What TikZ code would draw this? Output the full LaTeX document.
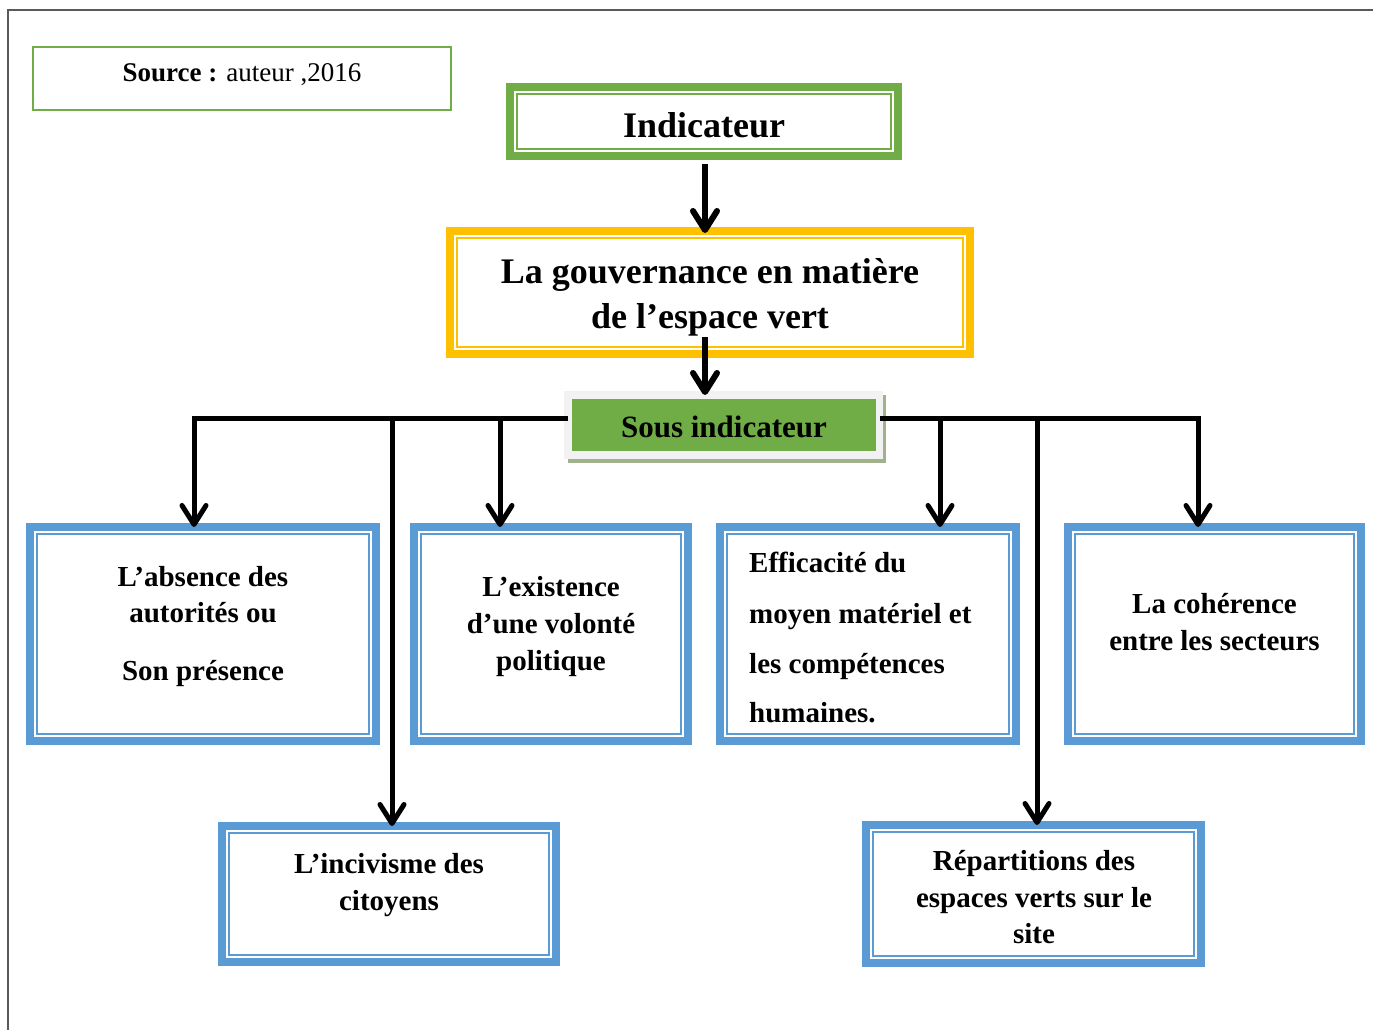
\documentclass[tikz,border=0pt]{standalone}
\usepackage{fontspec}
\setmainfont{Liberation Serif}
\usetikzlibrary{arrows.meta,backgrounds,calc}

\definecolor{grn}{HTML}{70AD47}
\definecolor{ylw}{HTML}{FFC000}
\definecolor{blu}{HTML}{5B9BD5}
\definecolor{frm}{HTML}{595959}
\definecolor{pale}{HTML}{F2F2F2}
\definecolor{shd}{RGB}{160,178,140}

% thin second frame drawn inside a thick-bordered box
\newcommand\innerframe[3]{%
  \draw[line width=2.5pt,#3] ([shift={(#2,-#2)}]#1.north west) rectangle ([shift={(-#2,#2)}]#1.south east);}

\begin{document}
\begin{tikzpicture}[x=1pt,y=1pt,
  box/.style={rectangle, outer sep=0pt, inner sep=0pt, line width=8pt},
  bluebox/.style={box, draw=blu},
  lbl/.style={anchor=base, inner sep=0pt, font=\fontsize{29}{35}\selectfont\bfseries},
  lblw/.style={lbl, anchor=base west},
  title/.style={anchor=base, inner sep=0pt, font=\fontsize{36}{42}\selectfont\bfseries},
  conn/.style={line width=5pt, -{Straight Barb[length=19pt,width=24pt,round]}},
  topconn/.style={conn, line width=6pt}
]
\useasboundingbox (0,0) rectangle (1373,-1030);

% page frame
\draw[frm, line width=2pt] (8,-1030) -- (8,-10) -- (1373,-10);

% source note
\node[box, draw=grn, line width=2.5pt, minimum width=418pt, minimum height=63pt] (src) at (242,-78.5) {};
\node[anchor=base, inner sep=0pt, font=\fontsize{27}{32}\selectfont] (srct) at (242,-82) {\textbf{Source :} auteur ,2016};

% indicator
\node[box, draw=grn, minimum width=388pt, minimum height=69pt] (ind) at (704,-121.5) {};
\innerframe{ind}{7}{grn}
\node[title] (indt) at (704,-138) {Indicateur};

% governance
\node[box, draw=ylw, minimum width=520pt, minimum height=123pt] (gov) at (710,-292.5) {};
\innerframe{gov}{7}{ylw}
\node[title] (gov1) at (710,-283) {La gouvernance en matière};
\node[title] (gov2) at (710,-328) {de l’espace vert};

% sub-indicator bar
\node[rectangle, outer sep=0pt, inner sep=0pt, fill=grn, minimum width=304pt, minimum height=52pt] (sous) at (724,-425) {};
\begin{scope}[on background layer]
  \fill[shd] ([shift={(-4,4)}]sous.north west) rectangle ([shift={(10,-12)}]sous.south east);
  \fill[pale] ([shift={(-8,8)}]sous.north west) rectangle ([shift={(7,-8)}]sous.south east);
\end{scope}
\node[anchor=base, inner sep=0pt, font=\fontsize{31}{36}\selectfont\bfseries] (soust) at (724,-437) {Sous indicateur};

% sub-indicator boxes
\node[bluebox, minimum width=346pt, minimum height=214pt] (A) at (203,-634) {};
\node[bluebox, minimum width=274pt, minimum height=214pt] (B) at (551,-634) {};
\node[bluebox, minimum width=296pt, minimum height=214pt] (C) at (868,-634) {};
\node[bluebox, minimum width=293pt, minimum height=214pt] (D) at (1214.5,-634) {};
\node[bluebox, minimum width=334pt, minimum height=136pt] (E) at (389,-894) {};
\node[bluebox, minimum width=335pt, minimum height=138pt] (F) at (1033.5,-894) {};
\foreach \b in {A,B,C,D,E,F}{\innerframe{\b}{7}{blu}}

\node[lbl] (a1) at (203,-586) {L’absence des};
\node[lbl] (a2) at (203,-622) {autorités ou};
\node[lbl] (a3) at (203,-680) {Son présence};

\node[lbl] (b1) at (551,-596) {L’existence};
\node[lbl] (b2) at (551,-633) {d’une volonté};
\node[lbl] (b3) at (551,-670) {politique};

\node[lblw] (c1) at (749,-572) {Efficacité du};
\node[lblw] (c2) at (749,-623) {moyen matériel et};
\node[lblw] (c3) at (749,-673) {les compétences};
\node[lblw] (c4) at (749,-722) {humaines.};

\node[lbl] (d1) at (1214.5,-613) {La cohérence};
\node[lbl] (d2) at (1214.5,-650) {entre les secteurs};

\node[lbl] (e1) at (389,-873) {L’incivisme des};
\node[lbl] (e2) at (389,-910) {citoyens};

\node[lbl] (f1) at (1034,-870) {Répartitions des};
\node[lbl] (f2) at (1034,-907) {espaces verts sur le};
\node[lbl] (f3) at (1034,-943) {site};

% connectors
\draw[topconn] ($(ind.south)+(1,-8)$) -- ($(ind.south |- gov.north)+(1,-2)$);
\draw[topconn] ($(gov.south)+(-5,17)$) -- ($(gov.south |- sous.north)+(-5,4)$);

\coordinate (busL) at ($(sous.west)+(-4,7)$);
\coordinate (busR) at ($(sous.east)+(4,7)$);
\draw[conn] (busL) -| ([xshift=-9pt]A.north);
\draw[conn] (busL) -| ([xshift=3pt]E.north);
\draw[conn] (busL) -| ([xshift=-51pt]B.north);
\draw[conn] (busR) -| ([xshift=72pt]C.north);
\draw[conn] (busR) -| ([xshift=3.5pt]F.north);
\draw[conn] (busR) -| ([xshift=-16.5pt]D.north);
\end{tikzpicture}
\end{document}
